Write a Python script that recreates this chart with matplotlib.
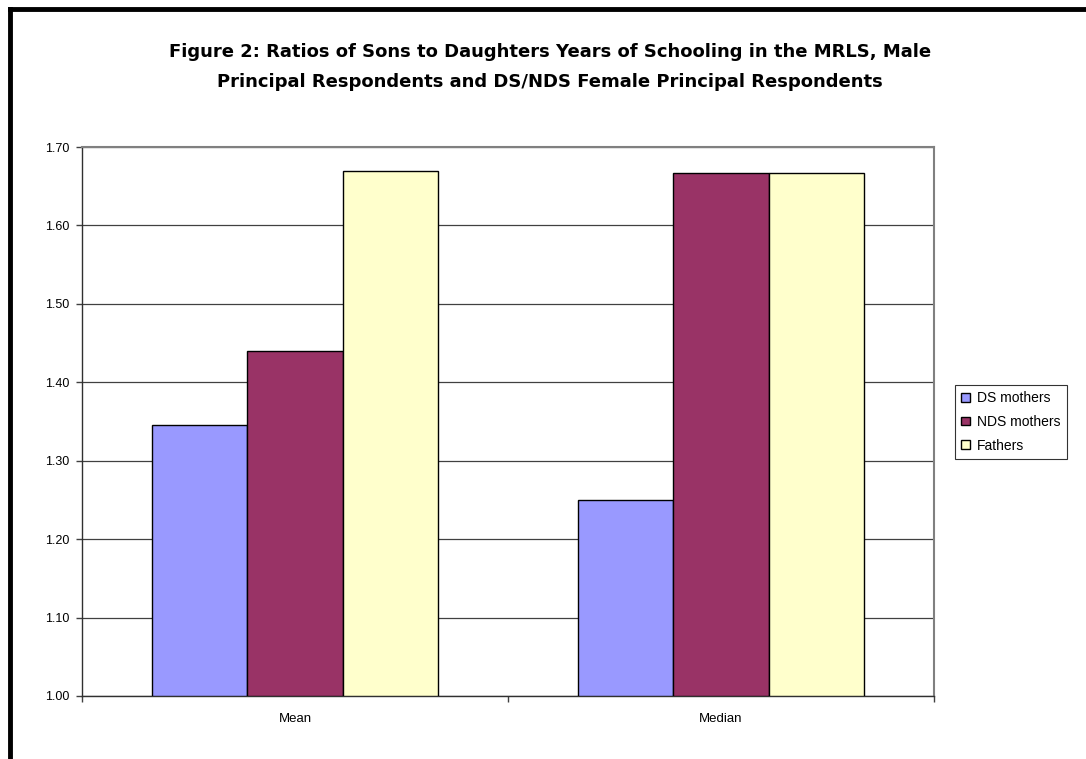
import matplotlib.pyplot as plt
from matplotlib.lines import Line2D
import numpy as np

plt.rcParams['font.family'] = ['Liberation Sans', 'DejaVu Sans']

# Ratio data
categories = ['Mean', 'Median']
series_names = ['DS mothers', 'NDS mothers', 'Fathers']
ds_mothers = [1.345, 1.25]
nds_mothers = [1.44, 1.667]
fathers = [1.67, 1.667]
y_ticks = [1.00, 1.10, 1.20, 1.30, 1.40, 1.50, 1.60, 1.70]
title_lines = ['Figure 2: Ratios of Sons to Daughters Years of Schooling in the MRLS, Male',
               'Principal Respondents and DS/NDS Female Principal Respondents']

colors = ['#9999FF', '#993366', '#FFFFCC']

W, H = 1086, 759
fig = plt.figure(figsize=(W / 100, H / 100), dpi=100)
ax = fig.add_axes([82 / W, 1 - 696 / H, 852 / W, 549 / H])

x = np.arange(len(categories))
width = 0.224
for i, (vals, name) in enumerate(zip([ds_mothers, nds_mothers, fathers], series_names)):
    ax.bar(x + (i - 1) * width, np.array(vals) - 1.0, width, bottom=1.0,
           color=colors[i], edgecolor='black', linewidth=1.0, label=name, zorder=3)

ax.set_xlim(-0.5, 1.5)
ax.set_ylim(1.0, 1.7)
ax.set_yticks(y_ticks)
ax.set_yticklabels([f'{v:.2f}' for v in y_ticks], fontsize=9)
ax.set_xticks([-0.5, 0.5, 1.5])
ax.set_xticklabels([])
ax.set_xticks(x, minor=True)
ax.set_xticklabels(categories, minor=True, fontsize=9.5)
ax.tick_params(axis='x', which='minor', length=0, pad=12)
ax.tick_params(axis='x', which='major', length=4, width=1, color='#404040', direction='out')
ax.tick_params(axis='y', length=4, width=1, color='#404040', direction='out', pad=5)

ax.yaxis.grid(True, color='#404040', linewidth=0.9, zorder=0)
ax.set_axisbelow(True)

for side in ['left', 'bottom']:
    ax.spines[side].set_color('#303030')
    ax.spines[side].set_linewidth(1.0)
for side in ['top', 'right']:
    ax.spines[side].set_color('#808080')
    ax.spines[side].set_linewidth(1.5)

# two-line title
for line, ypix in zip(title_lines, [52, 82]):
    fig.text(550 / W, 1 - ypix / H, line, ha='center', va='center',
             fontsize=13, fontweight='bold', family='DejaVu Sans')

leg = fig.legend(loc='upper left', bbox_to_anchor=(955 / W, 1 - 385 / H),
                 fontsize=10, frameon=True, fancybox=False, edgecolor='black',
                 handlelength=0.6, handleheight=0.6, handletextpad=0.55,
                 labelspacing=0.7, borderpad=0.45, borderaxespad=0)
leg.get_frame().set_linewidth(0.8)

# frame around the chart area
fig.add_artist(Line2D([10 / W, 10 / W], [0, 1 - 8.5 / H],
                      transform=fig.transFigure, color='black', linewidth=3.5,
                      solid_capstyle='projecting'))
fig.add_artist(Line2D([10 / W, 1], [1 - 8.5 / H, 1 - 8.5 / H],
                      transform=fig.transFigure, color='black', linewidth=3.5,
                      solid_capstyle='projecting'))

fig.savefig('out.png', dpi=100)
